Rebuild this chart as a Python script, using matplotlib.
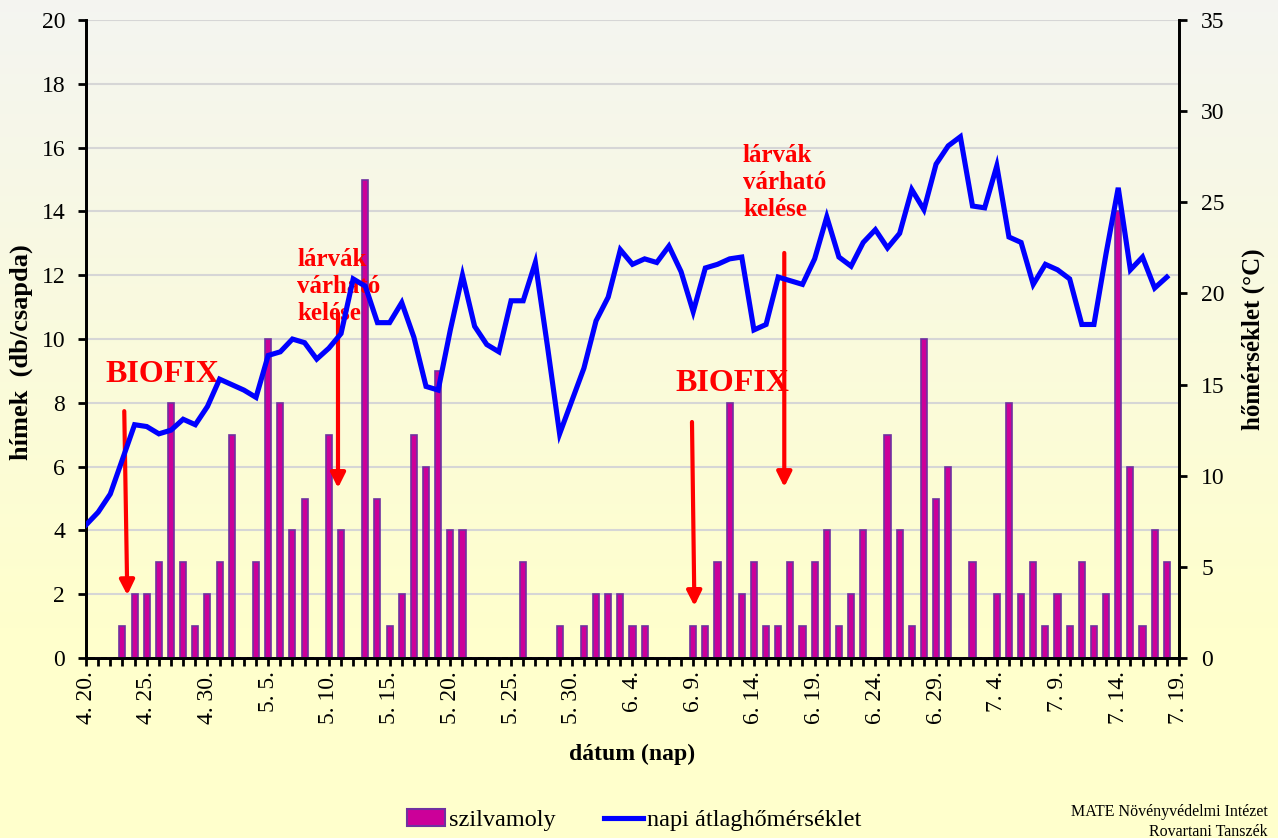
import numpy as np
import matplotlib
matplotlib.use('Agg')
import matplotlib.pyplot as plt
from matplotlib.patches import Patch
from matplotlib.lines import Line2D

plt.rcParams['font.family'] = ['Liberation Serif', 'DejaVu Serif']

# daily data from 4.20 (day 0) to 7.18 (day 89)
moth_counts = [0, 0, 0, 1, 2, 2, 3, 8, 3, 1,
               2, 3, 7, 0, 3, 10, 8, 4, 5, 0,
               7, 4, 0, 15, 5, 1, 2, 7, 6, 9,
               4, 4, 0, 0, 0, 0, 3, 0, 0, 1,
               0, 1, 2, 2, 2, 1, 1, 0, 0, 0,
               1, 1, 3, 8, 2, 3, 1, 1, 3, 1,
               3, 4, 1, 2, 4, 0, 7, 4, 1, 10,
               5, 6, 0, 3, 0, 2, 8, 2, 3, 1,
               2, 1, 3, 1, 2, 14, 6, 1, 4, 3]

temp_mean = [7.3, 8.0, 9.0, 10.9, 12.8, 12.7, 12.3, 12.5, 13.1, 12.8,
             13.8, 15.3, 15.0, 14.7, 14.3, 16.6, 16.8, 17.5, 17.3, 16.4,
             17.0, 17.8, 20.8, 20.4, 18.4, 18.4, 19.5, 17.6, 14.9, 14.7,
             18.0, 21.0, 18.2, 17.2, 16.8, 19.6, 19.6, 21.7, 17.1, 12.3,
             14.1, 15.9, 18.5, 19.8, 22.4, 21.6, 21.9, 21.7, 22.6, 21.2,
             19.0, 21.4, 21.6, 21.9, 22.0, 18.0, 18.3, 20.9, 20.7, 20.5,
             21.9, 24.2, 22.0, 21.5, 22.8, 23.5, 22.5, 23.3, 25.7, 24.6,
             27.1, 28.1, 28.6, 24.8, 24.7, 27.0, 23.1, 22.8, 20.5, 21.6,
             21.3, 20.8, 18.3, 18.3, 22.2, 25.8, 21.3, 22.0, 20.3, 20.9]

tick_labels = ['4. 20.', '4. 25.', '4. 30.', '5. 5.', '5. 10.', '5. 15.', '5. 20.',
               '5. 25.', '5. 30.', '6. 4.', '6. 9.', '6. 14.', '6. 19.', '6. 24.',
               '6. 29.', '7. 4.', '7. 9.', '7. 14.', '7. 19.']

days = np.arange(len(moth_counts))

fig = plt.figure(figsize=(12.78, 8.38), dpi=100)

# background gradient (grey-white at top -> pale yellow at bottom)
bg = fig.add_axes([0, 0, 1, 1], zorder=-10)
grad = np.linspace(0, 1, 256)
top = np.array([0.957, 0.960, 0.945])
bot = np.array([1.0, 1.0, 0.80])
t = np.clip(grad / 0.75, 0, 1)[:, None]
img = (top * (1 - t) + bot * t)[:, None, :]
bg.imshow(img, aspect='auto', extent=[0, 1, 0, 1])
bg.axis('off')

ax = fig.add_axes([0.0673, 0.2148, 0.8552, 0.7612])
ax.set_facecolor('none')
ax2 = ax.twinx()

# bars
ax.bar(days, moth_counts, width=0.5, color='#CC0099', edgecolor='#7030A0', linewidth=1.2, zorder=3)
ax.set_xlim(0, 90)
ax.set_ylim(0, 20)
ax.set_yticks(np.arange(0, 21, 2))
ax.yaxis.grid(True, color='#d6d6d6', linewidth=1.5, zorder=0)
ax.set_axisbelow(True)

ax.set_xticks(np.arange(0, 91, 5))
ax.set_xticks(np.arange(0, 91, 1), minor=True)
ax.set_xticklabels(tick_labels, rotation=90, fontsize=17)
ax.tick_params(axis='x', which='both', direction='out', length=6, width=2)
ax.tick_params(axis='y', direction='out', length=6, width=2, labelsize=17, pad=9)

# temperature line
ax2.plot(days, temp_mean, color='#0000FF', linewidth=3.7, zorder=4, solid_joinstyle='miter')
ax2.set_ylim(0, 35)
ax2.set_yticks(np.arange(0, 36, 5))
ax2.tick_params(axis='y', direction='out', length=6, width=2, labelsize=17, pad=10)

for a in (ax, ax2):
    a.spines['top'].set_visible(False)
    for s in ('left', 'right', 'bottom'):
        a.spines[s].set_linewidth(2)

ax.set_xlabel('dátum (nap)', fontsize=17, fontweight='bold', labelpad=14)
fig.text(0.017, 0.58, 'hímek  (db/csapda)', rotation=90, fontsize=19,
         fontweight='bold', ha='center', va='center')
ax2.set_ylabel('hőmérséklet (°C)', fontsize=18, fontweight='bold', labelpad=12)

# annotations
red = '#FF0000'
arrow = dict(arrowstyle='-|>', color=red, lw=3, mutation_scale=22, shrinkA=0, shrinkB=0)
ax.text(6.3, 8.9, 'BIOFIX', color=red, fontsize=23, fontweight='bold', ha='center', va='center', zorder=6)
ax.annotate('', xy=(3.4, 1.97), xytext=(3.15, 7.74), arrowprops=arrow, zorder=6)
ax.text(53.2, 8.6, 'BIOFIX', color=red, fontsize=23, fontweight='bold', ha='center', va='center', zorder=6)
ax.annotate('', xy=(50.1, 1.63), xytext=(49.9, 7.4), arrowprops=arrow, zorder=6)
ax.text(17.4, 12.85, 'lárvák\nvárható\nkelése', color=red, fontsize=18, fontweight='bold',
        ha='left', va='top', linespacing=1.22, zorder=6)
ax.annotate('', xy=(20.75, 5.33), xytext=(20.75, 10.8), arrowprops=arrow, zorder=6)
ax.text(54.1, 16.1, 'lárvák\nvárható\nkelése', color=red, fontsize=18, fontweight='bold',
        ha='left', va='top', linespacing=1.22, zorder=6)
ax.annotate('', xy=(57.5, 5.36), xytext=(57.5, 12.7), arrowprops=arrow, zorder=6)

# legend
handles = [Patch(facecolor='#CC0099', edgecolor='#7030A0', linewidth=1.5),
           Line2D([0], [0], color='#0000FF', linewidth=3.7)]
fig.legend(handles, ['szilvamoly', 'napi átlaghőmérséklet'], loc='center', bbox_to_anchor=(0.496, 0.021),
           ncol=2, frameon=False, fontsize=17.5, handlelength=1.6, handletextpad=0.15, columnspacing=2.0)

fig.text(0.992, 0.019, 'MATE Növényvédelmi Intézet\nRovartani Tanszék', ha='right', va='center',
         fontsize=11.5, linespacing=1.3)

fig.savefig('out.png', dpi=100)
